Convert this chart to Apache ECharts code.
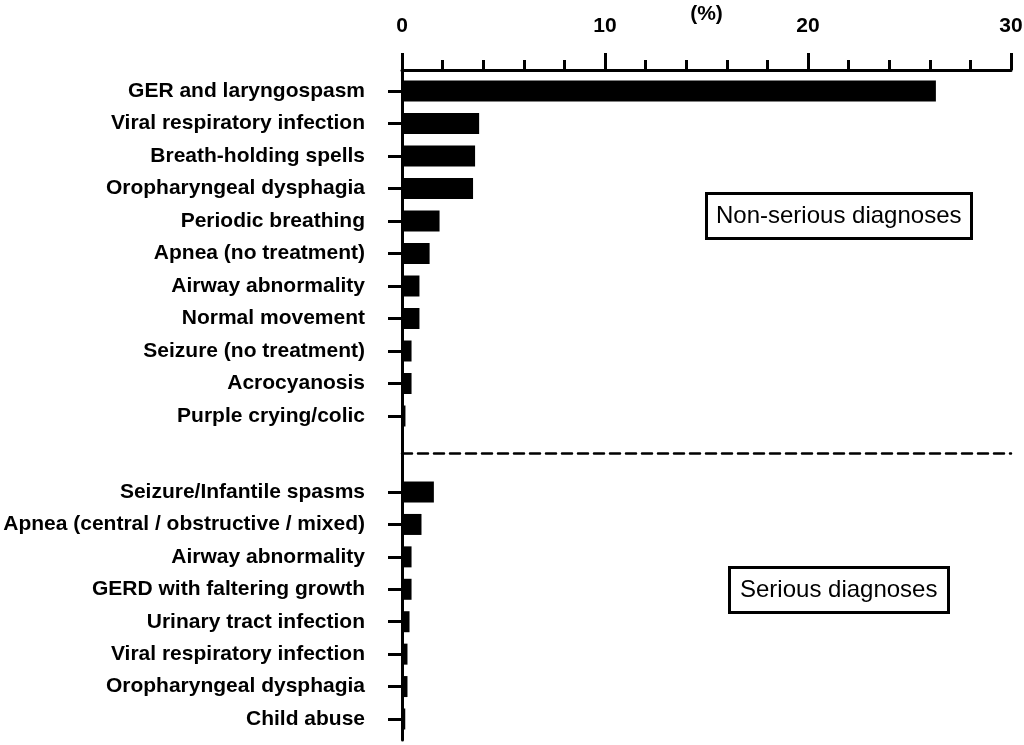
<!DOCTYPE html>
<html>
<head>
<meta charset="utf-8">
<script src="https://cdn.jsdelivr.net/npm/echarts@6/dist/echarts.min.js"></script>
<style>
  html, body { margin: 0; padding: 0; background: #fff; }
  #chart { width: 1024px; height: 745px; }
</style>
</head>
<body>
<div id="chart"></div>
<script>
// non-serious diagnoses (top block)
var nonSeriousNames = [
  'GER and laryngospasm',
  'Viral respiratory infection',
  'Breath-holding spells',
  'Oropharyngeal dysphagia',
  'Periodic breathing',
  'Apnea (no treatment)',
  'Airway abnormality',
  'Normal movement',
  'Seizure (no treatment)',
  'Acrocyanosis',
  'Purple crying/colic'
];
var nonSeriousValues = [26.3, 3.8, 3.6, 3.5, 1.85, 1.36, 0.86, 0.86, 0.47, 0.47, 0.17];

// serious diagnoses (bottom block)
var seriousNames = [
  'Seizure/Infantile spasms',
  'Apnea (central / obstructive / mixed)',
  'Airway abnormality',
  'GERD with faltering growth',
  'Urinary tract infection',
  'Viral respiratory infection',
  'Oropharyngeal dysphagia',
  'Child abuse'
];
var seriousValues = [1.57, 0.96, 0.47, 0.47, 0.37, 0.27, 0.27, 0.16];

var xTicks = [0, 10, 20, 30];

var FONT = '"Liberation Sans", Arial, sans-serif';

function catAxis(gridIndex, names) {
  return {
    type: 'category',
    gridIndex: gridIndex,
    data: names,
    inverse: true,
    axisLine: { show: false },
    axisTick: { show: true, alignWithLabel: true, length: 14, lineStyle: { color: '#000', width: 3 } },
    axisLabel: { margin: 37, color: '#000', fontFamily: FONT, fontWeight: 'bold', fontSize: 21 },
    splitLine: { show: false }
  };
}

var chart = echarts.init(document.getElementById('chart'));
chart.setOption({
  backgroundColor: '#fff',
  animation: false,
  title: [{
    text: 'Non-serious diagnoses',
    left: 706, top: 193,
    padding: [11, 10],
    borderWidth: 3, borderColor: '#000',
    textStyle: { fontFamily: FONT, fontWeight: 'normal', fontSize: 24, color: '#000' }
  }, {
    text: 'Serious diagnoses',
    left: 729, top: 567,
    padding: [11, 11],
    borderWidth: 3, borderColor: '#000',
    textStyle: { fontFamily: FONT, fontWeight: 'normal', fontSize: 24, color: '#000' }
  }],
  grid: [
    { left: 402, right: 13, top: 74.75, height: 357.5, outerBoundsMode: 'none' },   // top block
    { left: 402, right: 13, top: 475.8, height: 259.4, outerBoundsMode: 'none' },   // bottom block
    { left: 402, right: 13, top: 70, bottom: 5, outerBoundsMode: 'none' }           // frame: axes only
  ],
  xAxis: [{
    // separator between the two blocks
    type: 'value', gridIndex: 0, position: 'bottom', offset: 21.25,
    min: xTicks[0], max: xTicks[xTicks.length - 1],
    axisLine: { show: true, onZero: false, lineStyle: { color: '#000', width: 2.5, type: [10, 6] } },
    axisTick: { show: false }, axisLabel: { show: false }, splitLine: { show: false }
  }, {
    type: 'value', gridIndex: 1, show: false,
    min: xTicks[0], max: xTicks[xTicks.length - 1]
  }, {
    type: 'value', gridIndex: 2, position: 'top',
    min: xTicks[0], max: xTicks[xTicks.length - 1], interval: 10,
    name: '(%)', nameLocation: 'middle', nameGap: 45, nameMoveOverlap: false,
    nameTextStyle: { fontFamily: FONT, fontWeight: 'bold', fontSize: 21, color: '#000' },
    axisLine: { show: true, onZero: false, lineStyle: { color: '#000', width: 3 } },
    axisTick: { show: true, length: 17, lineStyle: { color: '#000', width: 3 } },
    minorTick: { show: true, splitNumber: 5, length: 10, lineStyle: { color: '#000', width: 3 } },
    axisLabel: { margin: 33.5, color: '#000', fontFamily: FONT, fontWeight: 'bold', fontSize: 21 },
    splitLine: { show: false }
  }],
  yAxis: [
    catAxis(0, nonSeriousNames),
    catAxis(1, seriousNames),
    {
      type: 'value', gridIndex: 2, min: 0, max: 1,
      axisLine: { show: true, onZero: false, lineStyle: { color: '#000', width: 3 } },
      axisTick: { show: false }, axisLabel: { show: false }, splitLine: { show: false }
    }
  ],
  series: [{
    type: 'bar', xAxisIndex: 0, yAxisIndex: 0,
    data: nonSeriousValues, barWidth: 21,
    itemStyle: { color: '#000' }
  }, {
    type: 'bar', xAxisIndex: 1, yAxisIndex: 1,
    data: seriousValues, barWidth: 21,
    itemStyle: { color: '#000' }
  }]
});
</script>
</body>
</html>
